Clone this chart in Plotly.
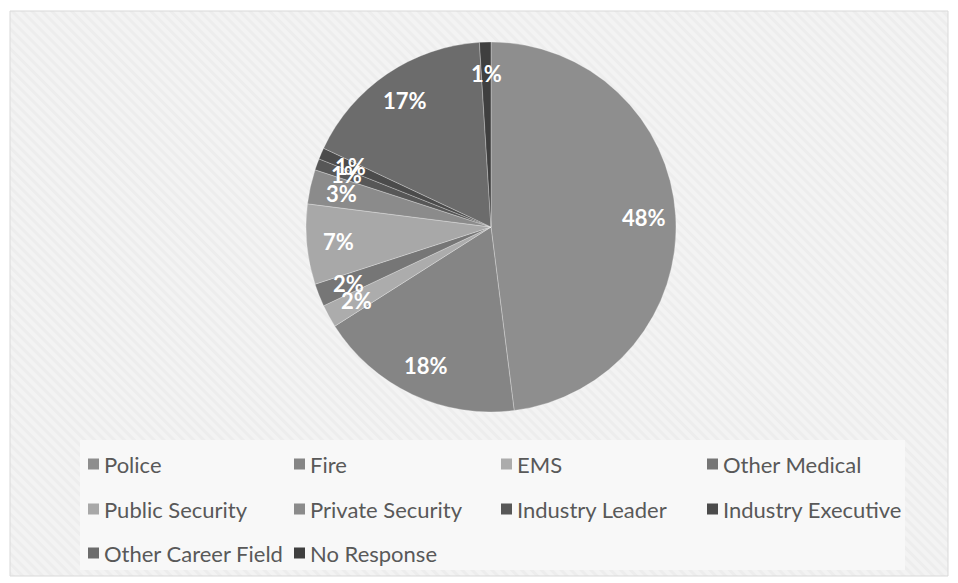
import base64
import math
import plotly.graph_objects as go

# Survey respondents by career field (percent of respondents)
categories = ["Police", "Fire", "EMS", "Other Medical", "Public Security",
              "Private Security", "Industry Leader", "Industry Executive",
              "Other Career Field", "No Response"]
shares = [48, 18, 2, 2, 7, 3, 1, 1, 17, 1]
slice_colors = ["#8e8e8e", "#858585", "#acacac", "#767676", "#a8a8a8",
                "#8b8b8b", "#575757", "#4b4b4b", "#6c6c6c", "#3f3f3f"]

W, H = 958, 583
CX, CY, R = 491, 227, 185          # pie centre and radius, px
LABEL_R = 0.83                      # label distance as fraction of radius
FONT = "Lato"


def px_x(x):
    return x / W


def px_y(y):
    return 1 - y / H


fig = go.Figure()

fig.add_trace(go.Pie(
    labels=categories,
    values=shares,
    sort=False,
    direction="clockwise",
    rotation=0,
    marker=dict(colors=slice_colors,
                line=dict(color="rgba(255,255,255,0.35)", width=0.8)),
    textinfo="none",
    hoverinfo="label+percent",
    showlegend=False,
    domain=dict(x=[px_x(CX - R), px_x(CX + R)],
                y=[px_y(CY + R), px_y(CY - R)]),
))

annotations = []
shapes = []

# Percentage labels placed at each slice's mid-angle
total = sum(shares)
cum = 0.0
for v in shares:
    mid = (cum + v / 2) / total * 2 * math.pi
    cum += v
    lx = CX + LABEL_R * R * math.sin(mid)
    ly = CY - LABEL_R * R * math.cos(mid)
    annotations.append(dict(
        x=px_x(lx), y=px_y(ly), xref="paper", yref="paper",
        text=f"{v}%", showarrow=False,
        font=dict(family=FONT, size=22, color="white", weight="bold"),
        xanchor="center", yanchor="middle"))

# Striped chart-area background and the lighter legend panel
bx0, by0, bx1, by1 = 10, 11, 948, 576
bw, bh = bx1 - bx0, by1 - by0
svg = (f'<svg xmlns="http://www.w3.org/2000/svg" width="{bw}" height="{bh}">'
       '<defs><pattern id="p" width="7" height="7" patternUnits="userSpaceOnUse" '
       'patternTransform="rotate(-45)">'
       '<rect width="7" height="7" fill="#f3f3f3"/>'
       '<rect width="3" height="7" fill="#ededed"/></pattern></defs>'
       '<rect width="100%" height="100%" fill="url(#p)"/></svg>')
svg_uri = "data:image/svg+xml;base64," + base64.b64encode(svg.encode()).decode()

shapes.append(dict(type="rect", xref="paper", yref="paper",
                   x0=px_x(80), x1=px_x(905), y0=px_y(570), y1=px_y(440),
                   fillcolor="#f8f8f8", line=dict(width=0), layer="below"))
shapes.append(dict(type="rect", xref="paper", yref="paper",
                   x0=px_x(bx0), x1=px_x(bx1), y0=px_y(by1), y1=px_y(by0),
                   fillcolor="rgba(0,0,0,0)",
                   line=dict(color="#d9d9d9", width=1), layer="below"))

# Legend grid: four columns, swatch followed by the category name
COL_X = [88, 294, 501, 707]
ROW_Y = [464, 509, 553]
SW = 11
for i, (name, col) in enumerate(zip(categories, slice_colors)):
    r, c = divmod(i, len(COL_X))
    x0, yc = COL_X[c], ROW_Y[r]
    shapes.append(dict(type="rect", xref="paper", yref="paper",
                       x0=px_x(x0), x1=px_x(x0 + SW),
                       y0=px_y(yc + SW / 2), y1=px_y(yc - SW / 2),
                       fillcolor=col, line=dict(width=0)))
    annotations.append(dict(
        x=px_x(x0 + SW + 3), y=px_y(yc), xref="paper", yref="paper",
        text=name, showarrow=False, xanchor="left", yanchor="middle",
        font=dict(family=FONT, size=22, color="#595959")))

fig.update_layout(
    width=W, height=H,
    margin=dict(l=0, r=0, t=0, b=0),
    paper_bgcolor="white",
    showlegend=False,
    images=[dict(source=svg_uri, xref="paper", yref="paper",
                 x=px_x(bx0), y=px_y(by0), sizex=bw / W, sizey=bh / H,
                 xanchor="left", yanchor="top", sizing="stretch",
                 layer="below")],
    shapes=shapes,
    annotations=annotations,
)

fig.write_html("out.html")
